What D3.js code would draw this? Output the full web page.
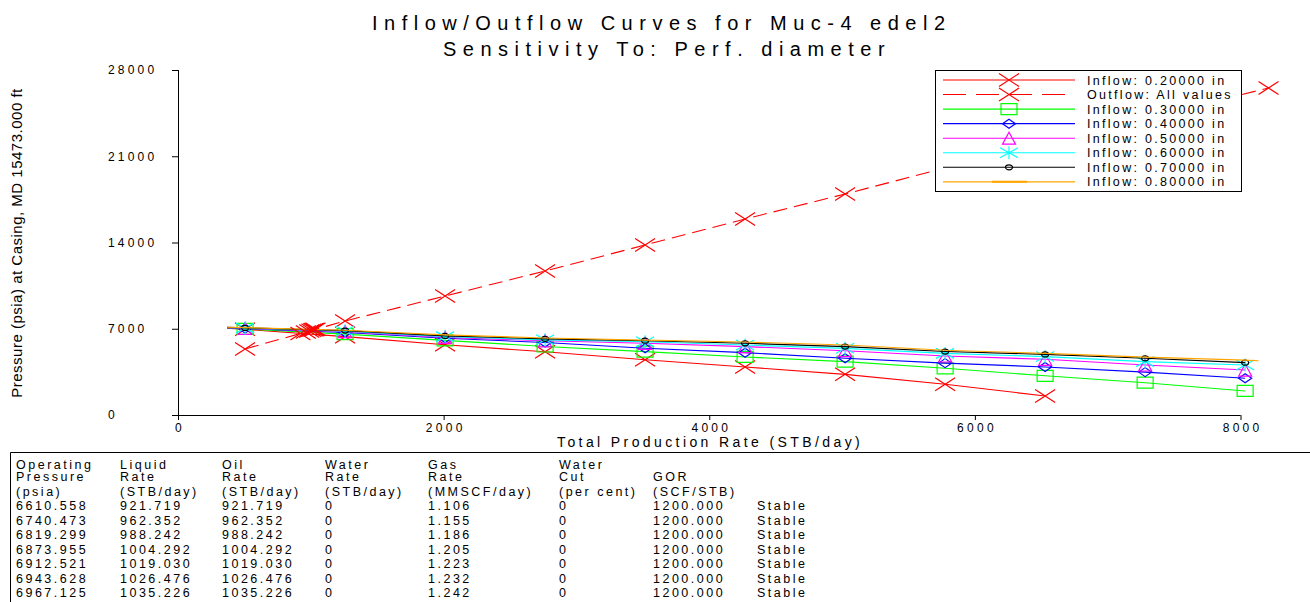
<!DOCTYPE html>
<html><head><meta charset="utf-8">
<script src="https://cdn.jsdelivr.net/npm/d3@7"></script>
<style>body{margin:0;background:#fff}svg{display:block;font-family:"Liberation Sans",Arial,sans-serif}</style>
</head><body><svg id="c" width="1310" height="602"></svg>
<script>
// ---- data ----
const inflowRates = [370,505,1258,2011,2764,3517,4270,5023,5776,6529,7282,8035];
const orangeRates = [370,505,1258,2011,2764,3517,4270,5023,5776,6529,7282,8035,8135];
const p020 = [7040,6950,6360,5700,5130,4480,3900,3300,2500,1540];
const p030 = [7060,6990,6560,6060,5560,5140,4710,4330,3790,3180,2620,1950];
const p040 = [7080,7010,6690,6230,5880,5420,5060,4600,4210,3900,3480,2980];
const p050 = [7090,7030,6770,6300,6020,5820,5550,5220,4790,4520,4060,3650];
const p060 = [7100,7050,6810,6360,6100,5950,5680,5410,5000,4740,4330,4060];
const p070 = [7110,7070,6850,6420,6180,6030,5820,5550,5150,4920,4600,4250];
const p080 = [7120,7090,6880,6500,6250,6080,5920,5680,5250,5000,4700,4450,4400];
const outRates = [505,1258,2011,2764,3517,4270,5023,5776,6529,7282,8211];
const outP = [5357,7629,9658,11687,13797,15908,17937,20047,22060,24080,26540];
const legendLabels = ["Inflow: 0.20000 in","Outflow: All values","Inflow: 0.30000 in","Inflow: 0.40000 in","Inflow: 0.50000 in","Inflow: 0.60000 in","Inflow: 0.70000 in","Inflow: 0.80000 in"];
const xTicks = [0,2000,4000,6000,8000];
const yTicks = [0,7000,14000,21000,28000];
// table columns (operating points)
const colPressure = ["6610.558","6740.473","6819.299","6873.955","6912.521","6943.628","6967.125"];
const colLiquid = ["921.719","962.352","988.242","1004.292","1019.030","1026.476","1035.226"];
const colOil = ["921.719","962.352","988.242","1004.292","1019.030","1026.476","1035.226"];
const colWater = ["0","0","0","0","0","0","0"];
const colGas = ["1.106","1.155","1.186","1.205","1.223","1.232","1.242"];
const colCut = ["0","0","0","0","0","0","0"];
const colGOR = ["1200.000","1200.000","1200.000","1200.000","1200.000","1200.000","1200.000"];
const colStatus = ["Stable","Stable","Stable","Stable","Stable","Stable","Stable"];
const headers = [["Operating","Pressure","(psia)"],["Liquid","Rate","(STB/day)"],["Oil","Rate","(STB/day)"],["Water","Rate","(STB/day)"],["Gas","Rate","(MMSCF/day)"],["Water","Cut","(per cent)"],["","GOR","(SCF/STB)"],["","",""]];

// ---- drawing ----
const svg = d3.select("#c");
const x = d3.scaleLinear([0,8000],[178,1240.5]);
const y = d3.scaleLinear([0,28000],[415,70]);

// title
svg.append("text").attr("x",372).attr("y",30).attr("font-size",20).attr("letter-spacing",6.5).text("Inflow/Outflow Curves for Muc-4 edel2");
svg.append("text").attr("x",443).attr("y",56).attr("font-size",20).attr("letter-spacing",6.5).text("Sensitivity To: Perf. diameter");

// axes
const ax = svg.append("g").attr("transform","translate(0,415)")
  .call(d3.axisBottom(x).tickValues(xTicks).tickSize(5).tickSizeOuter(0).tickFormat(d3.format("d")));
ax.select(".domain").attr("d","M172,0.5H1240.5");
ax.selectAll("text").attr("font-size",12).attr("letter-spacing",3.3).attr("dx",1.6).attr("y",8).attr("font-family","Liberation Sans, Arial, sans-serif").attr("fill","#000");
const ay = svg.append("g").attr("transform","translate(178,0)")
  .call(d3.axisLeft(y).tickValues(yTicks).tickSize(6).tickSizeOuter(0).tickFormat(d3.format("d")));
ay.select(".domain").attr("d","M0.5,70V418");
ay.selectAll("text").attr("font-size",12).attr("letter-spacing",3.2).attr("text-anchor","start").attr("x",-70).attr("font-family","Liberation Sans, Arial, sans-serif").attr("fill","#000");
svg.selectAll(".tick line").attr("stroke","#000");
svg.selectAll(".domain").attr("stroke","#000");

svg.append("text").attr("x",557).attr("y",447).attr("font-size",14).attr("letter-spacing",3.4).text("Total Production Rate (STB/day)");
svg.append("text").attr("transform","translate(22,243) rotate(-90)").attr("text-anchor","middle").attr("font-size",15).attr("letter-spacing",0.5).text("Pressure (psia) at Casing, MD 15473.000 ft");

// markers
const M = {
  x: "M-10,-6.5L10,6.5M-10,6.5L10,-6.5",
  sq: "M-8,-5.5H8V5.5H-8Z",
  dia: "M-6.5,0L0,-4.5L6.5,0L0,4.5Z",
  tri: "M0,-6L6.5,6H-6.5Z",
  star: "M-9,-5L9,5M-9,5L9,-5M0,-6.5V6.5",
  circ: "M-3.5,0A3.5,2.5 0 1,0 3.5,0A3.5,2.5 0 1,0 -3.5,0Z",
  none: ""
};
const series = [
  {rates: inflowRates, p: p020, color:"#ff0000", marker:"x"},
  {rates: outRates, p: outP, color:"#ff0000", marker:"x", dash:"14,7", all:true},
  {rates: inflowRates, p: p030, color:"#00ff00", marker:"sq"},
  {rates: inflowRates, p: p040, color:"#0000ff", marker:"dia"},
  {rates: inflowRates, p: p050, color:"#ff00ff", marker:"tri"},
  {rates: inflowRates, p: p060, color:"#00ffff", marker:"star"},
  {rates: inflowRates, p: p070, color:"#000000", marker:"circ"},
  {rates: orangeRates, p: p080, color:"#ffa500", marker:"none"}
];
const line = d3.line().x(d=>x(d[0])).y(d=>y(d[1]));
const plot = svg.append("g");
series.forEach(s=>{
  const pts = s.p.map((v,i)=>[s.rates[i],v]);
  plot.append("path").attr("d",line(pts)).attr("fill","none").attr("stroke",s.color).attr("stroke-width",1.1)
    .attr("stroke-dasharray",s.dash||null);
  if (s.marker!=="none") {
    const mp = s.all ? pts : pts.filter(d=>d[0]>=500);
    plot.selectAll(null).data(mp).enter().append("path")
      .attr("transform",d=>`translate(${x(d[0])},${y(d[1])})`)
      .attr("d",M[s.marker]).attr("fill","none").attr("stroke",s.color).attr("stroke-width",1.2);
  }
});
// operating points (solution markers)
const opPts = colLiquid.map((r,i)=>[+r,+colPressure[i]]);
plot.selectAll(null).data(opPts).enter().append("path")
  .attr("transform",d=>`translate(${x(d[0])},${y(d[1])})`)
  .attr("d",M.x).attr("fill","none").attr("stroke","#ff0000").attr("stroke-width",1.2);

// legend
const lg = svg.append("g");
lg.append("rect").attr("x",935.5).attr("y",70.5).attr("width",306).attr("height",121).attr("fill","#fff").attr("stroke","#000");
series.forEach((s,i)=>{
  const cy = 80 + i*14.55;
  lg.append("line").attr("x1",943).attr("x2",1075).attr("y1",cy).attr("y2",cy).attr("stroke",s.color).attr("stroke-width",1.1).attr("stroke-dasharray",s.dash?"23,10":null);
  if (s.marker!=="none") lg.append("path").attr("transform",`translate(1009,${cy})`).attr("d",M[s.marker]).attr("fill","none").attr("stroke",s.color).attr("stroke-width",1.2);
  else lg.append("line").attr("x1",992).attr("x2",1027).attr("y1",cy).attr("y2",cy).attr("stroke",s.color).attr("stroke-width",2);
  lg.append("text").attr("x",1087).attr("y",cy+4.5).attr("font-size",12.5).attr("letter-spacing",2.3).text(legendLabels[i]);
});

// table
const tb = svg.append("g");
tb.append("path").attr("d","M10.5,602V452.5H1310").attr("fill","none").attr("stroke","#000");
const colX = [16,120,222,325,428,559,653,757];
const cols = [colPressure,colLiquid,colOil,colWater,colGas,colCut,colGOR,colStatus];
const headY = [468.5,480.5,495.5];
headers.forEach((h,c)=>h.forEach((t,r)=>{
  if(t) tb.append("text").attr("x",colX[c]).attr("y",headY[r]).attr("font-size",12.5).attr("letter-spacing",2.5).text(t);
}));
cols.forEach((col,c)=>col.forEach((t,r)=>{
  tb.append("text").attr("x",colX[c]).attr("y",510+r*14.55).attr("font-size",12.5).attr("letter-spacing",2.5).text(t);
}));
</script></body></html>
